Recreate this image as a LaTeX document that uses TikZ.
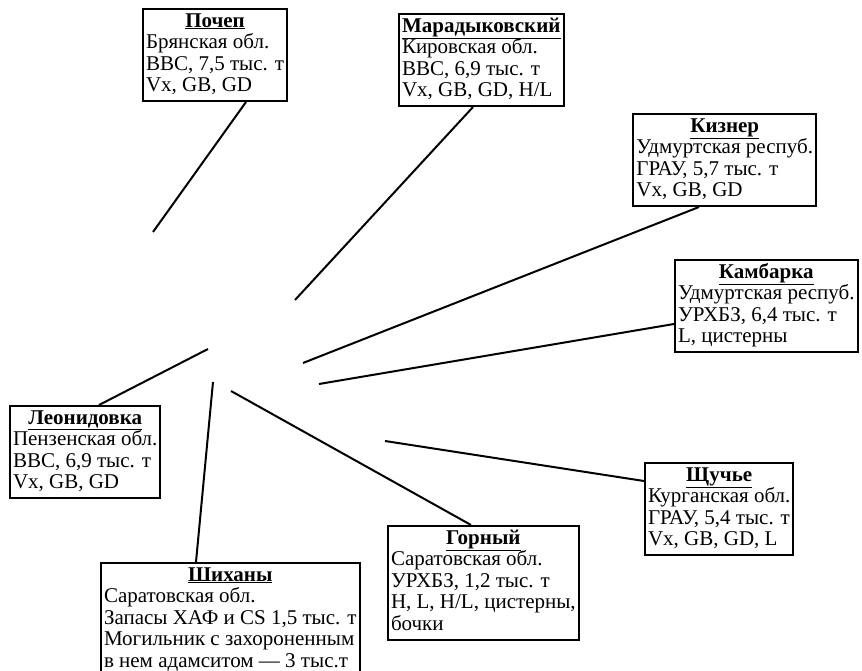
\documentclass[tikz,border=0pt]{standalone}
\usepackage{fontspec}
\setmainfont{Liberation Serif}

\tikzset{
  site/.style={draw, line width=2pt, anchor=north west, inner sep=3pt,
    font=\fontsize{21}{21.5}\selectfont},
  link/.style={line width=2pt}
}
\newcommand{\head}[1]{\multicolumn{1}{@{}c@{}}{\textbf{\underline{#1}}}}

\begin{document}
\begin{tikzpicture}[x=1pt, y=-1pt]
    \useasboundingbox (0, 0) rectangle (862, 671);

    \node[site] (pochep) at (142, 8) {\begin{tabular}{@{}l@{}}\head{Почеп}\\
      Брянская обл.\\ ВВС, 7,5 тыс. т\\ Vx, GB, GD\end{tabular}};
    \node[site] (marad) at (398, 13) {\begin{tabular}{@{}l@{}}\head{Марадыковский}\\
      Кировская обл.\\ ВВС, 6,9 тыс. т\\ Vx, GB, GD, H/L\end{tabular}};
    \node[site, anchor=north east] (kizner) at (817, 113) {\begin{tabular}{@{}l@{}}\head{Кизнер}\\
      Удмуртская респуб.\\ ГРАУ, 5,7 тыс. т\\ Vx, GB, GD\end{tabular}};
    \node[site] (kambarka) at (674, 259) {\begin{tabular}{@{}l@{}}\head{Камбарка}\\
      Удмуртская респуб.\\ УРХБЗ, 6,4 тыс. т\\ L, цистерны\end{tabular}};
    \node[site] (leonid) at (9, 405) {\begin{tabular}{@{}l@{}}\head{Леонидовка}\\
      Пензенская обл.\\ ВВС, 6,9 тыс. т\\ Vx, GB, GD\end{tabular}};
    \node[site] (shikhany) at (100, 562) {\begin{tabular}{@{}l@{}}\head{Шиханы}\\
      Саратовская обл.\\ Запасы ХАФ и CS 1,5 тыс. т\\ Могильник с захороненным\\
      в нем адамситом — 3 тыс.т\end{tabular}};
    \node[site] (gorny) at (387, 525) {\begin{tabular}{@{}l@{}}\head{Горный}\\
      Саратовская обл.\\ УРХБЗ, 1,2 тыс. т\\ H, L, H/L, цистерны,\\ бочки\end{tabular}};
    \node[site] (shchuchye) at (644, 462) {\begin{tabular}{@{}l@{}}\head{Щучье}\\
      Курганская обл.\\ ГРАУ, 5,4 тыс. т\\ Vx, GB, GD, L\end{tabular}};

    % free ends near the centre
    \coordinate (e1) at (153, 232);
    \coordinate (e2) at (295, 300);
    \coordinate (e3) at (303, 363);
    \coordinate (e4) at (319, 384);
    \coordinate (e5) at (208, 349);
    \coordinate (e6) at (213, 382);
    \coordinate (e7) at (231, 391);
    \coordinate (e8) at (385, 441);

    \draw[link] (pochep.south -| 246,0) -- (e1);
    \draw[link] (marad.south -| 473,0) -- (e2);
    \draw[link] (kizner.south -| 699,0) -- (e3);
    \draw[link] (kambarka.west |- 0,324) -- (e4);
    \draw[link] (leonid.north -| 99,0) -- (e5);
    \draw[link] (shikhany.north -| 196,0) -- (e6);
    \draw[link] (gorny.north -| 471,0) -- (e7);
    \draw[link] (shchuchye.west |- 0,481) -- (e8);
\end{tikzpicture}
\end{document}
